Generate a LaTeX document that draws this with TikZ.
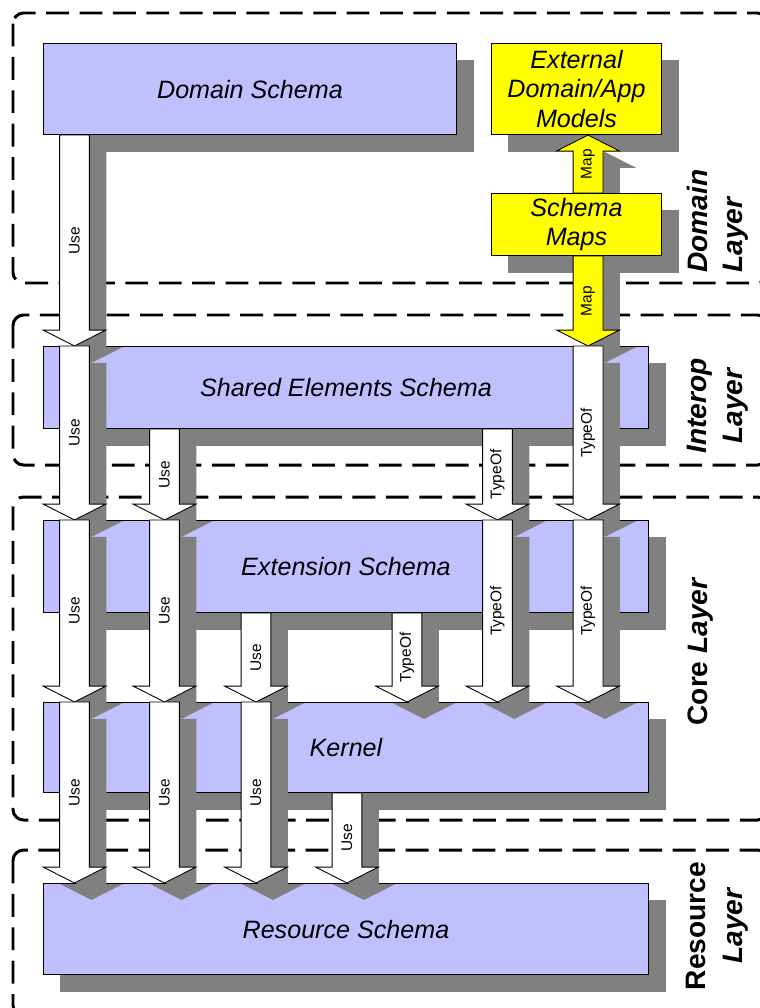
\documentclass[tikz,border=0pt]{standalone}
\usepackage{fontspec}
\setmainfont{Liberation Sans}
\usetikzlibrary{calc}
\definecolor{lav}{RGB}{192,192,255}
\definecolor{shadowc}{RGB}{128,128,128}
\definecolor{ylw}{RGB}{255,255,0}
\pgfdeclarelayer{bg}\pgfdeclarelayer{shad}\pgfdeclarelayer{box}\pgfdeclarelayer{front}
\pgfsetlayers{bg,shad,box,main,front}
\def\hs{8.5pt}\def\hh{17.86pt}\def\hl{9.07pt}\def\so{9.64pt}
\tikzset{
  layerframe/.style={draw=black, line width=1.7pt, dash pattern=on 13pt off 6pt, rounded corners=6pt},
  schemabox/.style={draw=black, line width=0.6pt, fill=lav, inner sep=0pt, anchor=north west,
     font=\fontsize{14.3}{17}\selectfont\itshape, align=center},
  mapbox/.style={schemabox, fill=ylw},
  arrowlbl/.style={rotate=90, inner sep=0pt, font=\fontsize{8.8}{10}\selectfont},
  layerlbl/.style={rotate=90, inner sep=0pt, font=\fontsize{16}{19}\selectfont\bfseries},
}
\newcommand\blk[6]{%
  \path[fill=shadowc] let \p1=(#1|-#2), \p2=(#1|-#3), \n1={ifthenelse(\y1>\y2,1,-1)} in
    (\x1-\hs+\so,\y1-\so) -- (\x1-\hs+\so,\y2+\n1*\hl-\so) -- (\x1-\hh+\so,\y2+\n1*\hl-\so)
    -- (\x1+\so,\y2-\so) -- (\x1+\hh+\so,\y2+\n1*\hl-\so) -- (\x1+\hs+\so,\y2+\n1*\hl-\so)
    -- (\x1+\hs+\so,\y1-\so) -- cycle;
  \path[draw=black, line width=0.5pt, fill=#4] let \p1=(#1|-#2), \p2=(#1|-#3), \n1={ifthenelse(\y1>\y2,1,-1)} in
    (\x1-\hs,\y1) -- (\x1-\hs,\y2+\n1*\hl) -- (\x1-\hh,\y2+\n1*\hl)
    -- (\x1,\y2) -- (\x1+\hh,\y2+\n1*\hl) -- (\x1+\hs,\y2+\n1*\hl)
    -- (\x1+\hs,\y1) -- cycle;
  \node[arrowlbl] (#6) at ($(#1|-#2)!0.5!(#1|-#3)$) {#5};
}
\begin{document}
\begin{tikzpicture}[x=0.02cm, y=-0.02cm]
\useasboundingbox (0,0) rectangle (760,1008);

% layer frames
\begin{pgfonlayer}{bg}
\draw[layerframe] (13,13) rectangle (768,283);
\draw[layerframe] (13,315) rectangle (768,465);
\draw[layerframe] (13,497) rectangle (768,820);
\draw[layerframe] (13,850) rectangle (768,1016);
\end{pgfonlayer}

% schema boxes
\begin{pgfonlayer}{box}
\node[schemabox, minimum width=8.26cm, minimum height=1.82cm] (domain) at (43,43) {Domain Schema};
\node[schemabox, minimum width=12.1cm, minimum height=1.64cm] (shared) at (43,346) {Shared Elements Schema};
\node[schemabox, minimum width=12.1cm, minimum height=1.84cm] (extension) at (43,520) {Extension Schema};
\node[schemabox, minimum width=12.1cm, minimum height=1.8cm] (kernel) at (43,702) {Kernel};
\node[schemabox, minimum width=12.1cm, minimum height=1.82cm] (resource) at (43,883) {Resource Schema};
\end{pgfonlayer}

\begin{pgfonlayer}{front}
\node[mapbox, minimum width=3.4cm, minimum height=1.82cm] (ext) at (491,43) {External\\Domain/App\\Models};
\node[mapbox, minimum width=3.4cm, minimum height=1.24cm] (maps) at (491,193) {Schema\\Maps};
\end{pgfonlayer}

% box shadows
\begin{pgfonlayer}{shad}
\foreach \b in {domain,shared,extension,kernel,resource,ext,maps}
  \fill[shadowc] ([shift={(17,17)}]\b.north west) rectangle ([shift={(17,17)}]\b.south east);
\end{pgfonlayer}

% arrow columns
\coordinate (cA) at (74.5,0);
\coordinate (cB) at (164.5,0);
\coordinate (cC) at (256,0);
\coordinate (cD) at (347,0);
\coordinate (cE) at (407,0);
\coordinate (cF) at (497.5,0);
\coordinate (cG) at (588,0);

\blk{cA}{domain.south}{shared.north}{white}{Use}{uA1}
\blk{cG}{maps.north}{ext.south}{ylw}{Map}{mG0}
\blk{cG}{maps.south}{shared.north}{ylw}{Map}{mG1}
\blk{cA}{shared.north}{extension.north}{white}{Use}{uA2}
\blk{cB}{shared.south}{extension.north}{white}{Use}{uB1}
\blk{cF}{shared.south}{extension.north}{white}{TypeOf}{tF1}
\blk{cG}{shared.north}{extension.north}{white}{TypeOf}{tG2}
\blk{cA}{extension.north}{kernel.north}{white}{Use}{uA3}
\blk{cB}{extension.north}{kernel.north}{white}{Use}{uB2}
\blk{cC}{extension.south}{kernel.north}{white}{Use}{uC1}
\blk{cE}{extension.south}{kernel.north}{white}{TypeOf}{tE1}
\blk{cF}{extension.north}{kernel.north}{white}{TypeOf}{tF2}
\blk{cG}{extension.north}{kernel.north}{white}{TypeOf}{tG3}
\blk{cA}{kernel.north}{resource.north}{white}{Use}{uA4}
\blk{cB}{kernel.north}{resource.north}{white}{Use}{uB3}
\blk{cC}{kernel.north}{resource.north}{white}{Use}{uC2}
\blk{cD}{kernel.south}{resource.north}{white}{Use}{uD1}

% layer labels
\node[layerlbl, anchor=base west] (dl1) at (707,273) {\itshape Domain};
\node[layerlbl, anchor=base west] (dl2) at (742,273) {\itshape Layer};
\node[layerlbl, anchor=base] (il1) at (706,406) {\itshape Interop};
\node[layerlbl, anchor=base] (il2) at (742,406) {\itshape Layer};
\node[layerlbl, anchor=base] (cl1) at (707,652) {Core \itshape Layer};
\node[layerlbl, anchor=base] (rl1) at (705,926) {Resource};
\node[layerlbl, anchor=base] (rl2) at (742,926) {\itshape Layer};
\end{tikzpicture}
\end{document}
